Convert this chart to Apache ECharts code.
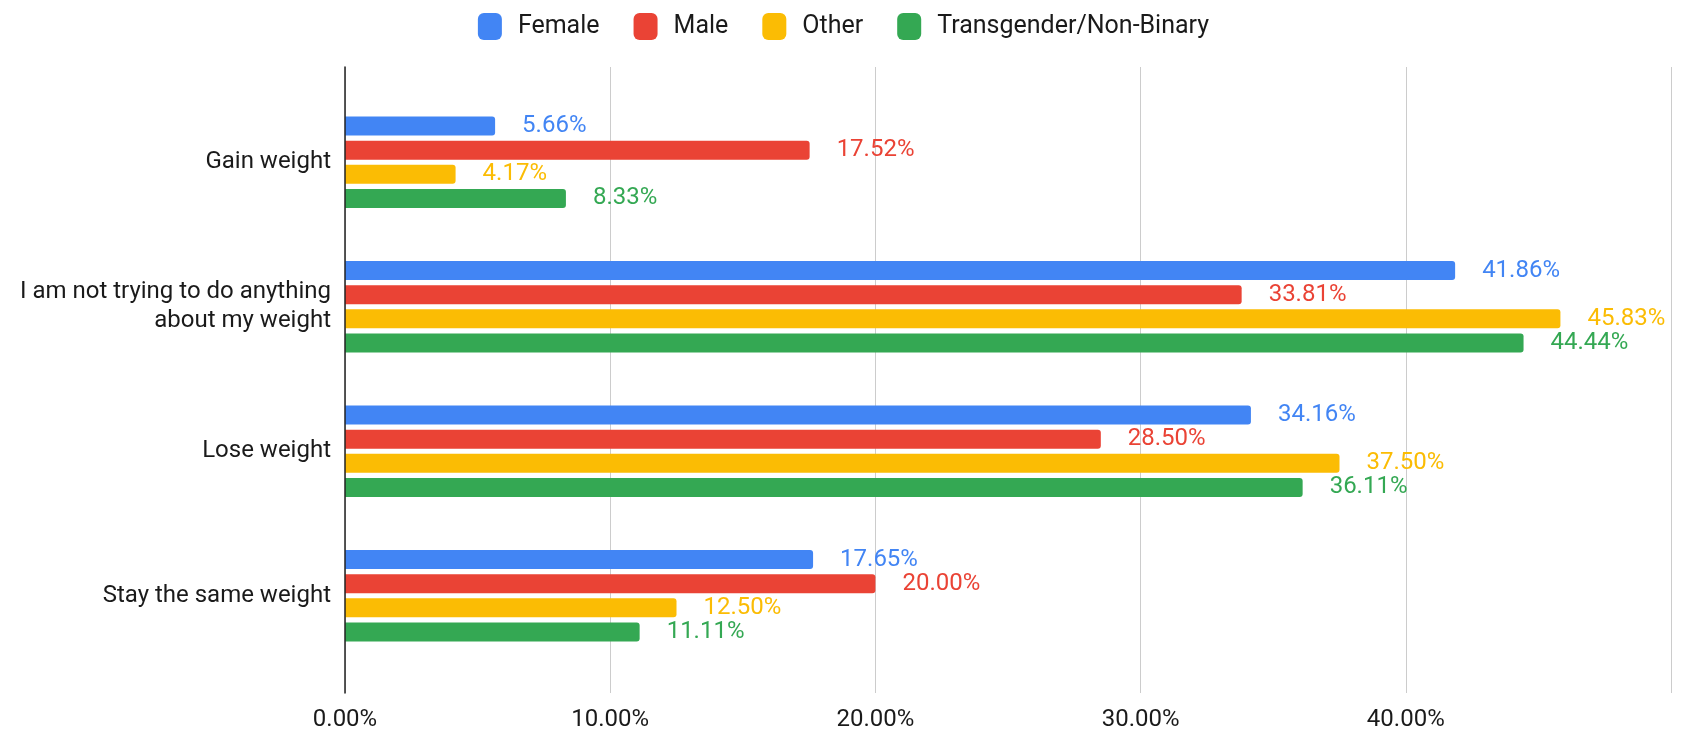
<!DOCTYPE html>
<html>
<head>
<meta charset="utf-8">
<script src="https://cdn.jsdelivr.net/npm/echarts@6/dist/echarts.min.js"></script>
<style>
  html, body { margin: 0; padding: 0; background: #fff; }
  #container { width: 1687px; height: 736px; }
</style>
</head>
<body>
<div id="container"></div>
<script>
var categories = ['Gain weight', 'I am not trying to do anything\nabout my weight', 'Lose weight', 'Stay the same weight'];
var seriesNames = ['Female', 'Male', 'Other', 'Transgender/Non-Binary'];
var female = [5.66, 41.86, 34.16, 17.65];
var male = [17.52, 33.81, 28.50, 20.00];
var other = [4.17, 45.83, 37.50, 12.50];
var trans = [8.33, 44.44, 36.11, 11.11];
var colors = ['#4285F4', '#EA4335', '#FBBC04', '#34A853'];
var seriesData = [female, male, other, trans];

var dom = document.getElementById("container");
var myChart = echarts.init(dom);
var font = 'Roboto, "Noto Sans", sans-serif';

var series = seriesNames.map(function (name, i) {
    return {
        name: name,
        type: 'bar',
        xAxisIndex: 0,
        yAxisIndex: 0,
        data: seriesData[i],
        barWidth: 19,
        barGap: '27%',
        itemStyle: { color: colors[i], borderRadius: [0, 3, 3, 0] },
        label: {
            show: true,
            position: 'right',
            distance: 27,
            color: colors[i],
            fontFamily: font,
            fontSize: 24,
            formatter: function (p) { return p.value.toFixed(2) + '%'; }
        }
    };
});

var option = {
    color: colors,
    animation: false,
    legend: {
        top: 8,
        left: 'center',
        itemWidth: 24,
        itemHeight: 27,
        itemGap: 34,
        icon: 'roundRect',
        data: seriesNames,
        textStyle: {
            fontFamily: font,
            fontSize: 25,
            color: '#1a1a1a',
            padding: [0, 0, 0, 11]
        }
    },
    grid: [
        { left: 345, right: 16, top: 90, bottom: 68 },
        { left: 345, right: 16, top: 67, bottom: 43 }
    ],
    xAxis: [{
        type: 'value',
        gridIndex: 0,
        min: 0,
        max: 50,
        show: false
    }, {
        type: 'value',
        gridIndex: 1,
        min: 0,
        max: 50,
        interval: 10,
        axisLine: { show: false },
        axisTick: { show: false },
        splitLine: { show: true, lineStyle: { color: '#cccccc', width: 1 } },
        axisLabel: {
            margin: 15,
            showMaxLabel: false,
            fontFamily: font,
            fontSize: 24,
            color: '#1a1a1a',
            formatter: function (v) { return v.toFixed(2) + '%'; }
        }
    }],
    yAxis: [{
        type: 'category',
        gridIndex: 0,
        inverse: true,
        data: categories,
        axisLine: { show: false },
        axisTick: { show: false },
        splitLine: { show: false },
        axisLabel: {
            margin: 14,
            fontFamily: font,
            fontSize: 24,
            lineHeight: 29,
            color: '#1a1a1a',
            align: 'right'
        }
    }, {
        type: 'value',
        gridIndex: 1,
        z: 5,
        axisLine: { show: true, onZero: false, lineStyle: { color: '#222', width: 1.5 } },
        axisTick: { show: false },
        axisLabel: { show: false },
        splitLine: { show: false }
    }],
    series: series
};

myChart.setOption(option, true);
</script>
</body>
</html>
